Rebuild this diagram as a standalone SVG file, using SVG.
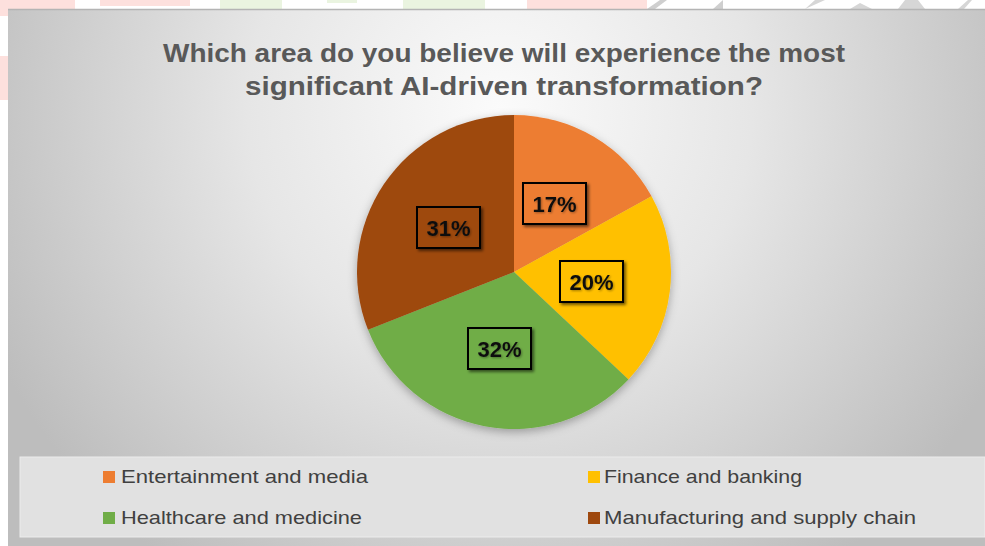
<svg xmlns="http://www.w3.org/2000/svg" width="985" height="546" viewBox="0 0 985 546">
  <defs>
    <radialGradient id="bg" gradientUnits="userSpaceOnUse" cx="500" cy="110" r="560">
      <stop offset="0" stop-color="#fbfbfb"/>
      <stop offset="0.45" stop-color="#e6e6e6"/>
      <stop offset="1" stop-color="#bdbdbd"/>
    </radialGradient>
    <filter id="pieShadow" x="-20%" y="-20%" width="140%" height="140%">
      <feDropShadow dx="0" dy="3" stdDeviation="5" flood-color="#000" flood-opacity="0.3"/>
    </filter>
    <filter id="boxShadow" x="-20%" y="-20%" width="150%" height="150%">
      <feDropShadow dx="2" dy="2" stdDeviation="1.5" flood-color="#000" flood-opacity="0.55"/>
    </filter>
    <filter id="txtShadow" x="-20%" y="-20%" width="150%" height="150%">
      <feDropShadow dx="1" dy="1" stdDeviation="1" flood-color="#000" flood-opacity="0.35"/>
    </filter>
  </defs>
  <style>
    .title { font-family: "Liberation Sans", Arial, sans-serif; font-weight: bold; font-size: 25px; fill: #595959; }
    .lbl { font-family: "Liberation Sans", Arial, sans-serif; font-weight: bold; font-size: 22px; fill: #111; text-anchor: middle; }
    .box { stroke: #000; stroke-width: 2; filter: url(#boxShadow); }
    .leg { font-family: "Liberation Sans", Arial, sans-serif; font-size: 19px; fill: #404040; }
    .wm-p { fill: #fde0dd; }
    .wm-g { fill: #eaf4e0; }
  </style>

  <!-- faint background watermark outside the chart -->
  <rect width="985" height="546" fill="#ffffff"/>
  <g id="watermark">
    <rect class="wm-p" x="0" y="0" width="75" height="9"/>
    <rect class="wm-p" x="100" y="0" width="90" height="6"/>
    <rect class="wm-p" x="0" y="0" width="8" height="16"/>
    <rect class="wm-p" x="0" y="56" width="8" height="44"/>
    <rect class="wm-g" x="220" y="0" width="62" height="9"/>
    <rect class="wm-g" x="327" y="0" width="30" height="3"/>
    <rect class="wm-g" x="403" y="0" width="82" height="9"/>
    <rect class="wm-p" x="527" y="0" width="120" height="9"/>
    <polygon points="647,9 660,0 667,0 655,9" fill="#cfcfcf"/>
    <polygon points="713,9 723,0 723,9" fill="#cfcfcf"/>
    <polygon points="805,9 815,0 825,0" fill="#d6d6d6"/>
    <polygon points="850,9 860,3 872,9" fill="#d6d6d6"/>
    <polygon points="898,9 905,0 918,0 925,9" fill="#d6d6d6"/>
    <polygon points="958,9 968,0 972,0 964,9" fill="#d6d6d6"/>
  </g>

  <!-- chart panel -->
  <rect id="panel" x="8" y="9" width="977" height="537" fill="url(#bg)"/>
  <line x1="8" y1="9.5" x2="985" y2="9.5" stroke="#b4b4b4" stroke-width="1.5"/>

  <g id="title">
    <text class="title" x="504" y="62" text-anchor="middle" textLength="682" lengthAdjust="spacingAndGlyphs">Which area do you believe will experience the most</text>
    <text class="title" x="504" y="95" text-anchor="middle" textLength="518" lengthAdjust="spacingAndGlyphs">significant AI-driven transformation?</text>
  </g>

  <g id="pie" filter="url(#pieShadow)">
    <path id="slice-entertainment" d="M514,272 L514,115 A157,157 0 0 1 651.58,196.37 Z" fill="#ED7D31"/>
    <path id="slice-finance" d="M514,272 L651.58,196.37 A157,157 0 0 1 628.45,379.47 Z" fill="#FFC000"/>
    <path id="slice-healthcare" d="M514,272 L628.45,379.47 A157,157 0 0 1 368.02,329.80 Z" fill="#70AD47"/>
    <path id="slice-manufacturing" d="M514,272 L368.02,329.80 A157,157 0 0 1 514,115 Z" fill="#9E480E"/>
  </g>

  <g id="label-17">
    <rect class="box" x="523" y="183" width="63" height="41" fill="#ED7D31"/>
    <text class="lbl" x="554.5" y="211.5" filter="url(#txtShadow)">17%</text>
  </g>
  <g id="label-20">
    <rect class="box" x="560" y="261" width="63" height="41" fill="#FFC000"/>
    <text class="lbl" x="591.5" y="289.5" filter="url(#txtShadow)">20%</text>
  </g>
  <g id="label-32">
    <rect class="box" x="468" y="328" width="63" height="41" fill="#70AD47"/>
    <text class="lbl" x="499.5" y="356.5" filter="url(#txtShadow)">32%</text>
  </g>
  <g id="label-31">
    <rect class="box" x="417" y="207" width="63" height="41" fill="#9E480E"/>
    <text class="lbl" x="448.5" y="235.5" filter="url(#txtShadow)">31%</text>
  </g>

  <g id="legend">
    <rect x="20" y="457" width="965" height="80" fill="#e1e1e1" stroke="#ececec" stroke-width="1"/>
    <g id="legend-entertainment">
      <rect x="103" y="471" width="12" height="12" fill="#ED7D31"/>
      <text class="leg" x="121" y="483" textLength="247" lengthAdjust="spacingAndGlyphs">Entertainment and media</text>
    </g>
    <g id="legend-finance">
      <rect x="588" y="471" width="12" height="12" fill="#FFC000"/>
      <text class="leg" x="604" y="483" textLength="198" lengthAdjust="spacingAndGlyphs">Finance and banking</text>
    </g>
    <g id="legend-healthcare">
      <rect x="103" y="512" width="12" height="12" fill="#70AD47"/>
      <text class="leg" x="121" y="524" textLength="241" lengthAdjust="spacingAndGlyphs">Healthcare and medicine</text>
    </g>
    <g id="legend-manufacturing">
      <rect x="588" y="512" width="12" height="12" fill="#9E480E"/>
      <text class="leg" x="604" y="524" textLength="312" lengthAdjust="spacingAndGlyphs">Manufacturing and supply chain</text>
    </g>
  </g>
</svg>
